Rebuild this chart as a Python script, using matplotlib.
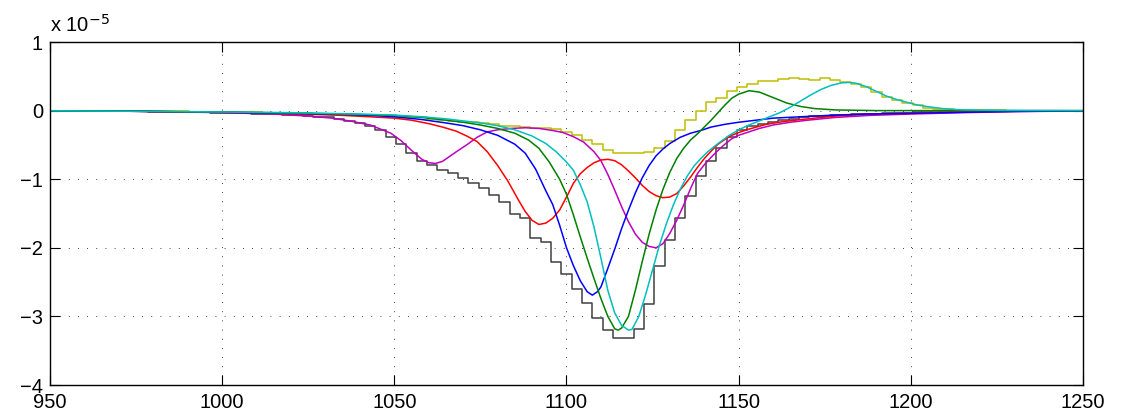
import numpy as np
import matplotlib
matplotlib.use('Agg')
from matplotlib import pyplot as plt

plt.rcParams['font.family'] = ['Liberation Sans', 'DejaVu Sans']

# values in units of 1e-5
magenta_x = [950, 975, 1000, 1015, 1025, 1032, 1038, 1043, 1046, 1049, 1052, 1055, 1058, 1060, 1062,
             1064, 1066, 1068, 1071, 1074, 1077, 1080, 1084, 1088, 1092, 1096, 1099, 1102, 1105, 1108,
             1110, 1112, 1114, 1116, 1118, 1120, 1122, 1124, 1126, 1128, 1130, 1132, 1134, 1136, 1138,
             1140, 1142, 1144, 1146, 1148, 1150, 1153, 1156, 1160, 1165, 1170, 1178, 1188, 1200, 1215,
             1230, 1250]
magenta_y = [-0.003, -0.01, -0.03, -0.05, -0.08, -0.11, -0.16, -0.21, -0.27, -0.33, -0.44, -0.58, -0.71, -0.76, -0.77,
             -0.74, -0.67, -0.60, -0.50, -0.39, -0.31, -0.28, -0.26, -0.25, -0.26, -0.29, -0.32, -0.38, -0.46, -0.60,
             -0.73, -0.93, -1.16, -1.40, -1.62, -1.80, -1.92, -1.98, -2.00, -1.94, -1.79, -1.60, -1.38, -1.14, -0.92,
             -0.79, -0.68, -0.58, -0.49, -0.41, -0.36, -0.31, -0.26, -0.21, -0.17, -0.14, -0.10, -0.07, -0.05, -0.03,
             -0.015, -0.005]

red_x = [950, 975, 1000, 1020, 1035, 1043, 1050, 1055, 1060, 1064, 1068, 1071, 1074, 1077, 1080, 1083,
         1086, 1088, 1090, 1092, 1094, 1096, 1098, 1100, 1102, 1104, 1106, 1108, 1110, 1112, 1114, 1116,
         1118, 1120, 1122, 1124, 1126, 1128, 1130, 1132, 1134, 1136, 1138, 1140, 1142, 1144, 1146, 1148,
         1150, 1153, 1158, 1163, 1168, 1178, 1188, 1200, 1215, 1230, 1250]
red_y = [-0.003, -0.01, -0.025, -0.045, -0.07, -0.09, -0.11, -0.14, -0.19, -0.24, -0.30, -0.37, -0.45, -0.60, -0.80, -1.03,
         -1.30, -1.47, -1.60, -1.66, -1.64, -1.57, -1.45, -1.26, -1.06, -0.92, -0.83, -0.76, -0.72, -0.71, -0.73, -0.79,
         -0.88, -0.98, -1.09, -1.18, -1.24, -1.27, -1.26, -1.21, -1.10, -0.97, -0.83, -0.70, -0.59, -0.49, -0.42, -0.36,
         -0.32, -0.27, -0.20, -0.16, -0.13, -0.08, -0.05, -0.035, -0.02, -0.01, -0.004]

blue_x = [950, 975, 1000, 1020, 1035, 1043, 1050, 1058, 1065, 1070, 1075, 1080, 1085, 1088, 1091, 1094,
          1096, 1098, 1100, 1102, 1104, 1106, 1107.5, 1109, 1110, 1112, 1114, 1116, 1118, 1120, 1122, 1124,
          1126, 1128, 1130, 1133, 1136, 1139, 1142, 1146, 1150, 1155, 1160, 1168, 1178, 1188, 1200, 1215,
          1230, 1250]
blue_y = [-0.003, -0.01, -0.025, -0.04, -0.055, -0.07, -0.09, -0.13, -0.18, -0.22, -0.28, -0.36, -0.49, -0.62, -0.85, -1.17,
          -1.37, -1.67, -2.00, -2.26, -2.48, -2.64, -2.69, -2.64, -2.57, -2.30, -2.02, -1.72, -1.45, -1.20, -0.98, -0.80,
          -0.66, -0.56, -0.48, -0.39, -0.33, -0.29, -0.24, -0.20, -0.17, -0.14, -0.11, -0.09, -0.065, -0.05, -0.04, -0.025,
          -0.012, -0.004]

green_x = [950, 975, 1000, 1020, 1035, 1043, 1050, 1058, 1065, 1070, 1075, 1080, 1085, 1089, 1092, 1095,
           1098, 1100, 1102, 1104, 1106, 1108, 1110, 1112, 1114, 1115, 1116, 1118, 1120, 1122, 1124, 1126,
           1128, 1130, 1132, 1134, 1136, 1138, 1140, 1142, 1144, 1146, 1148, 1150, 1153, 1156, 1158, 1161,
           1164, 1168, 1172, 1178, 1190, 1250]
green_y = [-0.003, -0.01, -0.02, -0.035, -0.05, -0.06, -0.07, -0.10, -0.14, -0.17, -0.21, -0.26, -0.33, -0.43, -0.55, -0.75,
           -1.00, -1.22, -1.52, -1.84, -2.15, -2.45, -2.74, -3.00, -3.18, -3.20, -3.17, -3.00, -2.62, -2.20, -1.80, -1.45,
           -1.15, -0.90, -0.70, -0.55, -0.43, -0.34, -0.24, -0.14, -0.03, 0.08, 0.18, 0.24, 0.29, 0.27, 0.23, 0.17,
           0.11, 0.06, 0.03, 0.01, 0.0, 0.0]

cyan_x = [950, 975, 1000, 1020, 1035, 1043, 1050, 1058, 1065, 1070, 1075, 1080, 1085, 1090, 1094, 1097,
          1100, 1102, 1104, 1106, 1108, 1110, 1112, 1114, 1116, 1118, 1119, 1121, 1123, 1125, 1127, 1129,
          1131, 1133, 1135, 1137, 1139, 1141, 1144, 1147, 1150, 1153, 1156, 1159, 1162, 1165, 1168, 1171,
          1174, 1177, 1180, 1182, 1184, 1187, 1190, 1193, 1196, 1199, 1202, 1206, 1210, 1215, 1225, 1250]
cyan_y = [-0.003, -0.01, -0.02, -0.03, -0.045, -0.055, -0.065, -0.09, -0.12, -0.15, -0.18, -0.22, -0.28, -0.37, -0.48, -0.60,
          -0.75, -0.87, -1.08, -1.33, -1.70, -2.15, -2.62, -2.95, -3.13, -3.20, -3.19, -3.00, -2.68, -2.32, -1.96, -1.65,
          -1.38, -1.15, -0.96, -0.81, -0.70, -0.60, -0.48, -0.37, -0.28, -0.21, -0.15, -0.09, -0.03, 0.05, 0.14, 0.23,
          0.31, 0.37, 0.405, 0.41, 0.40, 0.35, 0.28, 0.21, 0.16, 0.12, 0.08, 0.05, 0.025, 0.01, 0.003, 0.0]

# staircase series, one value every 3 units from 950 to 1250
stair_x = np.arange(950, 1251, 3)
black_y = [-0.003, -0.004, -0.005, -0.006, -0.007, -0.008, -0.009, -0.010, -0.011, -0.012,   # 950-977
           -0.014, -0.016, -0.018, -0.020, -0.022, -0.025, -0.028, -0.031, -0.035, -0.039,   # 980-1007
           -0.043, -0.048, -0.054, -0.061, -0.069, -0.078, -0.089, -0.10, -0.12, -0.145,     # 1010-1037
           -0.18, -0.22, -0.28, -0.38, -0.48, -0.62, -0.74, -0.80, -0.86, -0.91,             # 1040-1067
           -0.98, -1.05, -1.13, -1.23, -1.33, -1.51, -1.57, -1.86, -1.91, -2.20,             # 1070-1097
           -2.38, -2.60, -2.81, -3.03, -3.20, -3.31, -3.31, -3.19, -2.82, -2.26,             # 1100-1127
           -1.89, -1.57, -1.24, -0.95, -0.74, -0.55, -0.38, -0.29, -0.23, -0.19,             # 1130-1157
           -0.16, -0.14, -0.12, -0.10, -0.085, -0.075, -0.067, -0.060, -0.054, -0.048,       # 1160-1187
           -0.043, -0.038, -0.034, -0.030, -0.026, -0.023, -0.020, -0.017, -0.015, -0.013,   # 1190-1217
           -0.011, -0.009, -0.008, -0.007, -0.006, -0.005, -0.004, -0.003, -0.002, -0.002,   # 1220-1247
           -0.001]                                                                           # 1250
yellow_y = [-0.002, -0.002, -0.003, -0.003, -0.004, -0.004, -0.005, -0.006, -0.007, -0.008,  # 950-977
            -0.009, -0.010, -0.011, -0.012, -0.014, -0.016, -0.018, -0.020, -0.022, -0.024,  # 980-1007
            -0.026, -0.028, -0.031, -0.034, -0.037, -0.040, -0.043, -0.046, -0.050, -0.054,  # 1010-1037
            -0.058, -0.062, -0.068, -0.075, -0.082, -0.090, -0.10, -0.12, -0.13, -0.15,      # 1040-1067
            -0.16, -0.17, -0.18, -0.20, -0.22, -0.23, -0.24, -0.25, -0.25, -0.27,            # 1070-1097
            -0.31, -0.35, -0.43, -0.48, -0.57, -0.62, -0.62, -0.62, -0.60, -0.55,            # 1100-1127
            -0.45, -0.28, -0.14, -0.01, 0.12, 0.18, 0.28, 0.34, 0.39, 0.43,                  # 1130-1157
            0.43, 0.46, 0.47, 0.46, 0.45, 0.47, 0.45, 0.42, 0.39, 0.34,                      # 1160-1187
            0.27, 0.20, 0.155, 0.11, 0.075, 0.045, 0.03, 0.02, 0.012, 0.008,                 # 1190-1217
            0.005, 0.003, 0.002, 0.001, 0.001, 0.0, 0.0, 0.0, 0.0, 0.0,                      # 1220-1247
            0.0]                                                                             # 1250

# matlab default colour order
c_blue = (0, 0, 1)
c_green = (0, 0.5, 0)
c_red = (1, 0, 0)
c_cyan = (0, 0.75, 0.75)
c_magenta = (0.75, 0, 0.75)
c_yellow = (0.75, 0.75, 0)
c_black = (0.25, 0.25, 0.25)

fig = plt.figure(figsize=(11.26, 4.19), dpi=100)
ax = fig.add_axes([50 / 1126, 1 - 385 / 419, 1033 / 1126, 343 / 419])

lw = 1.1
ax.plot(stair_x, black_y, drawstyle='steps-mid', color=c_black, lw=lw)
ax.plot(stair_x, yellow_y, drawstyle='steps-mid', color=c_yellow, lw=lw)
ax.plot(magenta_x, magenta_y, color=c_magenta, lw=lw)
ax.plot(red_x, red_y, color=c_red, lw=lw)
ax.plot(blue_x, blue_y, color=c_blue, lw=lw)
ax.plot(green_x, green_y, color=c_green, lw=lw)
ax.plot(cyan_x, cyan_y, color=c_cyan, lw=lw)

ax.set_xlim(950, 1250)
ax.set_ylim(-4, 1)
ax.set_xticks(np.arange(950, 1251, 50))
ax.set_yticks([-4, -3, -2, -1, 0, 1])
ax.grid(True, color='k', linestyle=(0, (1, 10)), linewidth=0.6)
ax.tick_params(direction='in', length=7, width=0.8, top=True, right=True,
               labelsize=14.5, colors='k')
ax.tick_params(axis='x', pad=6)
ax.tick_params(axis='y', pad=5)
for s in ax.spines.values():
    s.set_linewidth(1.0)

ax.text(0, 1 + 10 / 343, 'x 10$^{-5}$', transform=ax.transAxes, fontsize=14.5,
        ha='left', va='baseline')

fig.savefig('out.png', dpi=100)
